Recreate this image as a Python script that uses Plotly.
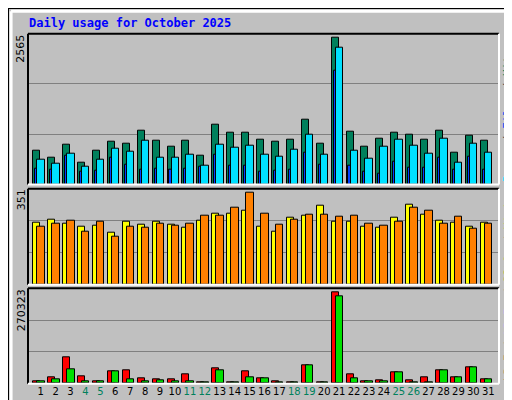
import plotly.graph_objects as go

days = list(range(1, 32))
weekend = [4, 5, 11, 12, 18, 19, 25, 26]

hits = [581, 462, 683, 377, 581, 734, 700, 921, 751, 649, 751, 496, 1023, 887, 887, 768,
        734, 768, 1108, 700, 2502, 904, 649, 785, 887, 853, 768, 921, 547, 836, 751]
files = [428, 360, 530, 309, 428, 615, 564, 751, 462, 462, 513, 326, 683, 632, 666, 513,
         479, 598, 853, 513, 2332, 581, 445, 649, 768, 666, 530, 785, 377, 700, 547]
pages = [275, 258, 496, 224, 241, 462, 343, 258, 275, 258, 275, 309, 513, 326, 326, 224,
         241, 258, 547, 343, 1941, 326, 224, 190, 394, 292, 292, 462, 258, 479, 258]
visits = [228, 239, 224, 213, 217, 191, 232, 221, 232, 221, 210, 235, 261, 261, 272, 213,
          195, 246, 254, 290, 232, 232, 213, 210, 246, 294, 257, 235, 228, 213, 228]
sites = [213, 224, 235, 195, 232, 177, 213, 210, 224, 217, 224, 254, 254, 283, 338, 261,
         221, 239, 257, 257, 250, 254, 224, 217, 232, 283, 272, 224, 250, 206, 224]
kb_f = [6600, 18000, 74700, 20800, 6600, 35000, 37800, 15100, 12300, 12300, 26500, 3800,
        43500, 3800, 35000, 15100, 6600, 3800, 52000, 3800, 259000, 26500, 6600, 9500,
        32100, 9500, 18000, 37800, 18000, 46300, 12300]
kb_out = [6600, 12300, 40600, 6600, 6600, 35000, 12300, 6600, 9500, 6600, 6600, 3800,
          37800, 3800, 18000, 15100, 3800, 3800, 52000, 3800, 247600, 15100, 6600, 6600,
          32100, 3800, 3800, 37800, 18000, 46300, 12300]
max_hits, max_visits, max_kb = 2565, 351, 270323

fig = go.Figure()


def add_bar(vals, color, yaxis, offset, width):
    fig.add_trace(go.Bar(x=days, y=vals, marker=dict(color=color, line=dict(color="black", width=1)),
                         offset=offset, width=width, xaxis="x", yaxis=yaxis, showlegend=False))


add_bar(hits, "#00805c", "y", -0.5, 0.47)
add_bar(pages, "#0040ff", "y", -0.37, 0.14)
add_bar(files, "#00e0ff", "y", -0.23, 0.5)
add_bar(visits, "#ffff00", "y2", -0.5, 0.47)
add_bar(sites, "#ff8000", "y2", -0.23, 0.5)
add_bar(kb_f, "#ff0000", "y3", -0.5, 0.47)
add_bar(kb_out, "#00e000", "y3", -0.23, 0.5)

xdom = [20 / 512, 491 / 512]
doms = [(25.7, 176.5), (180.7, 276.7), (280.3, 375.7)]
maxes = [max_hits, max_visits, max_kb]


def yax(i):
    top, bot = doms[i]
    m = maxes[i]
    return dict(domain=[1 - bot / 400, 1 - top / 400], range=[0, m], tickvals=[m / 3, 2 * m / 3],
                showticklabels=False, showgrid=True, gridcolor="#808080", gridwidth=1,
                zeroline=False, anchor="x", fixedrange=True)


ticktext = [f"<span style='color:#00805c'>{d}</span>" if d in weekend else str(d) for d in days]

fig.update_layout(
    width=512, height=400, autosize=False, margin=dict(l=0, r=0, t=0, b=0),
    paper_bgcolor="#c0c0c0", plot_bgcolor="#c0c0c0", barmode="overlay", bargap=0,
    font=dict(family="DejaVu Sans Mono", size=11, color="black"),
    xaxis=dict(domain=xdom, range=[0.148, 31.72], tickvals=days, ticktext=ticktext,
               tickangle=0, automargin=False, showgrid=False, zeroline=False, ticks="",
               anchor="y3", fixedrange=True,
               tickfont=dict(family="DejaVu Sans", size=10, color="black")),
    yaxis=yax(0), yaxis2=yax(1), yaxis3=yax(2),
)

# outer frame
fig.add_shape(type="rect", xref="paper", yref="paper", x0=0, y0=0, x1=1, y1=1,
              line=dict(color="black", width=2))
fig.add_shape(type="line", xref="paper", yref="paper", x0=0.006, y0=0.992, x1=0.994, y1=0.992,
              line=dict(color="white", width=3))
fig.add_shape(type="line", xref="paper", yref="paper", x0=0.006, y0=0.008, x1=0.006, y1=0.992,
              line=dict(color="white", width=3))
fig.add_shape(type="line", xref="paper", yref="paper", x0=0.994, y0=0.008, x1=0.994, y1=0.992,
              line=dict(color="#808080", width=4))
fig.add_shape(type="line", xref="paper", yref="paper", x0=0.006, y0=0.008, x1=0.994, y1=0.008,
              line=dict(color="#808080", width=4))

# panel borders
for top, bot in doms:
    y0, y1 = 1 - bot / 400, 1 - top / 400
    fig.add_shape(type="line", xref="paper", yref="paper", x0=xdom[0], y0=y1, x1=xdom[1], y1=y1,
                  line=dict(color="black", width=2))
    fig.add_shape(type="line", xref="paper", yref="paper", x0=xdom[0], y0=y0, x1=xdom[0], y1=y1,
                  line=dict(color="black", width=2))
    fig.add_shape(type="line", xref="paper", yref="paper", x0=xdom[1], y0=y0, x1=xdom[1], y1=y1,
                  line=dict(color="white", width=2))
    fig.add_shape(type="line", xref="paper", yref="paper", x0=xdom[0], y0=y0, x1=xdom[1], y1=y0,
                  line=dict(color="white", width=2))

fig.add_annotation(text="<b>Daily usage for October 2025</b>", xref="paper", yref="paper",
                   x=19 / 512, y=1 - 15 / 400, xanchor="left", yanchor="middle", showarrow=False,
                   font=dict(family="DejaVu Sans Mono", size=12, color="#0000ff"))

for (top, bot), m in zip(doms, maxes):
    fig.add_annotation(text=str(m), xref="paper", yref="paper", x=13 / 512, y=1 - (top - 1) / 400,
                       xanchor="center", yanchor="top", textangle=-90, showarrow=False,
                       font=dict(family="DejaVu Sans", size=11, color="black"))

sep = "<span style='color:#404040'> / </span>"
right_labels = [
    "<span style='color:#00e0ff'>Pages</span>" + sep + "<span style='color:#0040ff'>Files</span>"
    + sep + "<span style='color:#00805c'>Hits</span>",
    "<span style='color:#ff8000'>Sites</span>" + sep + "<span style='color:#ffff00'>Visits</span>",
    "<span style='color:#ff0000'>kB F</span>" + sep + "<span style='color:#0080ff'>kB In</span>"
    + sep + "<span style='color:#00e000'>kB Out</span>",
]
for (top, bot), lab in zip(doms, right_labels):
    fig.add_annotation(text=lab, xref="paper", yref="paper", x=500 / 512, y=1 - bot / 400,
                       xanchor="center", yanchor="bottom", textangle=-90, showarrow=False,
                       font=dict(family="DejaVu Sans Mono", size=11))

fig.write_html("out.html")
